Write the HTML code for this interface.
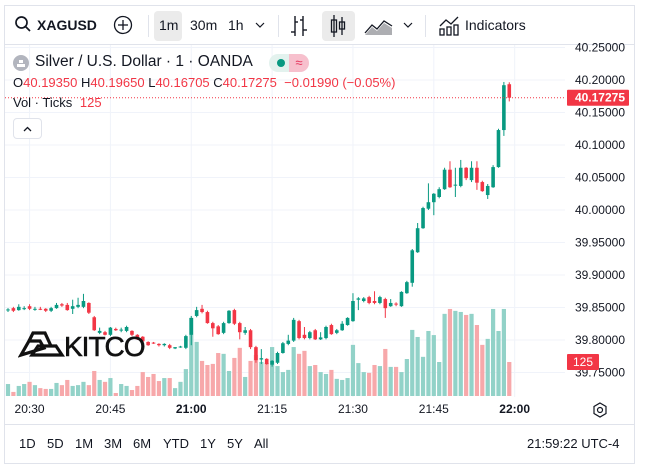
<!DOCTYPE html>
<html><head><meta charset="utf-8">
<style>
html,body{margin:0;padding:0;background:#fff;}
body{width:650px;height:467px;position:relative;overflow:hidden;font-family:"Liberation Sans",sans-serif;color:#131722;}
.abs{position:absolute;}
.frame{left:4px;top:5px;width:629px;height:457px;border:1px solid #e0e3eb;}
.tb{font-size:14px;top:17px;}
.sep{width:1px;background:#e0e3eb;}
.hl{background:#ebebeb;border-radius:4px;}
.bt{font-size:13px;top:436px;}
</style></head>
<body>
<div class="abs frame"></div>
<!-- toolbar -->
<svg class="abs" style="left:14px;top:15px" width="18" height="18"><circle cx="7.5" cy="7.5" r="5.5" fill="none" stroke="#131722" stroke-width="1.7"/><line x1="11.5" y1="11.5" x2="16" y2="16" stroke="#131722" stroke-width="1.7"/></svg>
<div class="abs tb" style="left:37px;font-weight:bold">XAGUSD</div>
<svg class="abs" style="left:113px;top:15px" width="20" height="20"><circle cx="10" cy="10" r="8.5" fill="none" stroke="#131722" stroke-width="1.3"/><line x1="10" y1="5" x2="10" y2="15" stroke="#131722" stroke-width="1.3"/><line x1="5" y1="10" x2="15" y2="10" stroke="#131722" stroke-width="1.3"/></svg>
<div class="abs sep" style="left:148px;top:15px;height:22px"></div>
<div class="abs hl" style="left:154px;top:11px;width:28px;height:30px"></div>
<div class="abs tb" style="left:159px">1m</div>
<div class="abs tb" style="left:190px">30m</div>
<div class="abs tb" style="left:228px">1h</div>
<svg class="abs" style="left:255px;top:21px" width="10" height="8"><polyline points="1,2 5,6 9,2" fill="none" stroke="#131722" stroke-width="1.2"/></svg>
<div class="abs sep" style="left:278px;top:15px;height:22px"></div>
<svg class="abs" style="left:289px;top:14px" width="20" height="24"><g stroke="#131722" stroke-width="1.4" fill="none"><line x1="6" y1="2" x2="6" y2="22"/><line x1="2" y1="18" x2="6" y2="18"/><line x1="6" y1="8" x2="9" y2="8"/><line x1="14" y1="2" x2="14" y2="22"/><line x1="11" y1="6" x2="14" y2="6"/><line x1="14" y1="16" x2="18" y2="16"/></g></svg>
<div class="abs hl" style="left:322px;top:11px;width:33px;height:30px"></div>
<svg class="abs" style="left:328px;top:14px" width="20" height="24"><g stroke="#131722" stroke-width="1.3" fill="none"><line x1="6" y1="1" x2="6" y2="23"/><rect x="3.5" y="6" width="5" height="12"/><line x1="14" y1="3" x2="14" y2="21"/><rect x="11.5" y="8" width="5" height="7"/></g></svg>
<svg class="abs" style="left:364px;top:16px" width="30" height="20"><polyline points="1,17 8,9 13,13 20,5 28,10" fill="none" stroke="#131722" stroke-width="1.3"/><polygon points="1,19 8,11 13,15 20,7 28,12 28,19" fill="#131722" opacity="0.35"/></svg>
<svg class="abs" style="left:403px;top:21px" width="10" height="8"><polyline points="1,2 5,6 9,2" fill="none" stroke="#131722" stroke-width="1.2"/></svg>
<div class="abs sep" style="left:425px;top:15px;height:22px"></div>
<svg class="abs" style="left:438px;top:14px" width="22" height="22"><g stroke="#131722" stroke-width="1.3" fill="none"><polyline points="2,12 8,6 13,10 20,3"/><rect x="2" y="15" width="4" height="6"/><rect x="9" y="13" width="4" height="8"/><rect x="16" y="11" width="4" height="10"/></g></svg>
<div class="abs tb" style="left:465px">Indicators</div>
<div class="abs" style="left:5px;top:44px;width:629px;height:1px;background:#e0e3eb"></div>

<svg id="chart" class="abs" style="left:0;top:0" width="650" height="467"></svg>

<!-- legend -->
<svg class="abs" style="left:13px;top:55px" width="16" height="16"><circle cx="8" cy="8" r="8" fill="#b2b5be"/><rect x="4" y="9" width="8" height="3" fill="#fff"/><rect x="6" y="5" width="4" height="3" fill="#fff"/></svg>
<div class="abs" style="left:35px;top:53px;font-size:15.5px">Silver / U.S. Dollar · 1 · OANDA</div>
<div class="abs" style="left:269px;top:54px;width:40px;height:18px;border-radius:9px;background:#e3f2ee;overflow:hidden"><div class="abs" style="left:8px;top:5px;width:8px;height:8px;border-radius:4px;background:#089981"></div><div class="abs" style="left:20px;top:0;width:20px;height:18px;background:#f7c0cd;color:#e5325a;font-size:13px;text-align:center;line-height:18px">≈</div></div>
<div class="abs" style="left:13px;top:75px;font-size:13px;white-space:nowrap">O<span style="color:#f23645">40.19350</span> H<span style="color:#f23645">40.19650</span> L<span style="color:#f23645">40.16705</span> C<span style="color:#f23645">40.17275</span> <span style="color:#f23645">&nbsp;−0.01990 (−0.05%)</span></div>
<div class="abs" style="left:13px;top:95px;font-size:13px">Vol · Ticks <span style="color:#f23645;margin-left:4px">125</span></div>
<div class="abs" style="left:13px;top:118px;width:27px;height:19px;border:1px solid #e0e3eb;border-radius:4px;background:#fff"><svg width="27" height="19"><polyline points="10,12 13.5,8.5 17,12" fill="none" stroke="#131722" stroke-width="1.3"/></svg></div>

<!-- logo -->
<div class="abs" style="left:18px;top:330px"><svg width="130" height="30"><g fill="none" stroke="#111" stroke-width="3.2"><polygon points="3,25 11,11 22,11 26,18"/><polygon points="14,25 20,16 38,16 44,25"/><polyline points="11,11 15,3 27,3 33,16"/></g><text x="46" y="26" font-family="Liberation Sans" font-size="28" fill="#111" stroke="#111" stroke-width="0.6" letter-spacing="-1">KITCO</text></svg></div>

<!-- bottom bar -->
<div class="abs" style="left:5px;top:424px;width:629px;height:1px;background:#e0e3eb"></div>
<div class="abs bt" style="left:19px">1D</div>
<div class="abs bt" style="left:47px">5D</div>
<div class="abs bt" style="left:75px">1M</div>
<div class="abs bt" style="left:104px">3M</div>
<div class="abs bt" style="left:133px">6M</div>
<div class="abs bt" style="left:163px">YTD</div>
<div class="abs bt" style="left:200px">1Y</div>
<div class="abs bt" style="left:227px">5Y</div>
<div class="abs bt" style="left:254px">All</div>
<div class="abs bt" style="left:527px">21:59:22 UTC-4</div>
<svg class="abs" style="left:592px;top:402px" width="16" height="16"><polygon points="8,1 14,4.5 14,11.5 8,15 2,11.5 2,4.5" fill="none" stroke="#131722" stroke-width="1.2"/><circle cx="8" cy="8" r="2.5" fill="none" stroke="#131722" stroke-width="1.2"/></svg>

<script>
const opens=[39.846,39.849,39.846,39.848,39.852,39.847,39.848,39.848,39.845,39.849,39.855,39.854,39.848,39.851,39.851,39.857,39.835,39.811,39.812,39.808,39.817,39.815,39.814,39.814,39.808,39.805,39.797,39.796,39.794,39.792,
39.792,39.787,39.789,39.788,39.808,39.837,39.848,39.843,39.826,39.821,39.811,39.826,39.846,39.826,39.811,39.815,39.789,39.770,39.771,39.762,39.765,39.780,39.794,39.799,39.829,39.808,39.803,39.815,39.801,39.803,
39.823,39.811,39.815,39.823,39.829,39.862,39.860,39.866,39.860,39.857,39.863,39.852,39.856,39.852,39.872,39.888,39.935,39.972,40.002,40.012,40.020,40.032,40.062,40.038,40.037,40.065,40.046,40.065,40.043,40.023,40.035,40.066,40.123,40.1935];
const highs=[39.849,39.851,39.855,39.852,39.855,39.851,39.851,39.849,39.851,39.857,39.857,39.857,39.862,39.865,39.871,39.858,39.837,39.819,39.814,39.820,39.819,39.819,39.822,39.815,39.809,39.806,39.798,39.797,39.795,39.795,
39.794,39.789,39.791,39.808,39.837,39.851,39.854,39.845,39.828,39.823,39.828,39.846,39.848,39.828,39.820,39.817,39.791,39.786,39.772,39.769,39.782,39.797,39.808,39.834,39.831,39.820,39.814,39.817,39.812,39.822,
39.825,39.817,39.829,39.835,39.872,39.866,39.866,39.868,39.875,39.868,39.865,39.863,39.858,39.875,39.891,39.940,39.980,40.005,40.041,40.026,40.035,40.065,40.075,40.065,40.077,40.066,40.075,40.075,40.045,40.040,40.069,40.125,40.197,40.1965];
const lows=[39.843,39.843,39.845,39.846,39.846,39.845,39.846,39.843,39.843,39.848,39.851,39.845,39.840,39.849,39.849,39.840,39.814,39.809,39.807,39.806,39.814,39.812,39.812,39.806,39.800,39.796,39.791,39.794,39.790,39.790,
39.786,39.786,39.788,39.786,39.792,39.835,39.841,39.825,39.805,39.808,39.809,39.825,39.823,39.801,39.808,39.786,39.765,39.763,39.762,39.759,39.763,39.779,39.792,39.797,39.801,39.801,39.801,39.800,39.800,39.801,
39.808,39.809,39.814,39.822,39.828,39.846,39.858,39.855,39.855,39.855,39.834,39.851,39.852,39.851,39.871,39.882,39.934,39.971,40.000,39.992,40.018,40.031,40.034,40.020,40.035,40.046,40.043,40.031,40.028,40.017,40.034,40.065,40.114,40.16705];
const closes=[39.847,39.845,39.851,39.849,39.848,39.848,39.847,39.845,39.849,39.854,39.853,39.846,39.852,39.854,39.860,39.842,39.815,39.814,39.808,39.819,39.815,39.816,39.820,39.808,39.801,39.798,39.792,39.795,39.792,39.794,
39.788,39.789,39.790,39.806,39.834,39.846,39.843,39.826,39.818,39.809,39.826,39.845,39.825,39.812,39.815,39.789,39.769,39.772,39.763,39.768,39.780,39.795,39.799,39.831,39.803,39.803,39.812,39.801,39.804,39.820,
39.809,39.815,39.825,39.834,39.860,39.864,39.864,39.857,39.857,39.866,39.849,39.857,39.855,39.874,39.889,39.938,39.972,40.003,40.012,40.025,40.032,40.062,40.035,40.039,40.065,40.049,40.065,40.042,40.029,40.037,40.066,40.123,40.192,40.17275];
const volumes=[44,15,37,44,52,40,29,26,26,48,40,59,37,40,52,40,92,59,52,66,11,44,37,22,37,88,70,81,55,66,
66,29,52,99,287,199,129,114,118,158,155,92,140,177,70,129,151,125,121,180,110,88,96,180,155,166,110,114,88,81,
96,63,59,66,188,121,88,85,114,110,173,107,107,88,136,243,217,144,239,224,125,302,320,313,309,298,302,261,188,210,320,239,320,125];
const priceTicks=[40.25,40.20,40.15,40.10,40.05,40.00,39.95,39.90,39.85,39.80,39.75];
const timeLabels=["20:30","20:45","21:00","21:15","21:30","21:45","22:00"];
const timeIdx=[4,19,34,49,64,79,94];
const lastPrice=40.17275;

const NS="http://www.w3.org/2000/svg";
const svg=document.getElementById('chart');
const xS=i=>8+i*5.39;
const yS=p=>80+(40.2-p)*650;
const vS=v=>v*0.272;
const VBASE=396;
function mk(t,a,p){const e=document.createElementNS(NS,t);for(const k in a)e.setAttribute(k,a[k]);(p||svg).appendChild(e);return e;}
const G="#089981",R="#f23645";
const grid=mk('g',{});


priceTicks.forEach(p=>{mk('line',{x1:5,x2:565,y1:yS(p),y2:yS(p),stroke:"#f0f3fa","stroke-width":1},grid);});
timeIdx.forEach(i=>{mk('line',{x1:xS(i),x2:xS(i),y1:45,y2:397,stroke:"#f0f3fa","stroke-width":1},grid);});
volumes.forEach((v,i)=>{const up=closes[i]>=opens[i];const h=vS(v);
 const r=mk('rect',{x:xS(i)-2.1,y:VBASE-h,width:4.2,height:h,fill:up?"#92d2c8":"#f7a8aa"});
 
 });
opens.forEach((o,i)=>{const c=closes[i];const up=c>=o;const col=up?G:R;
 const g=mk('g',{});
 
 
 mk('line',{x1:xS(i),x2:xS(i),y1:yS(highs[i]),y2:yS(lows[i]),stroke:col,"stroke-width":1},g);
 const t=Math.min(yS(o),yS(c));const h=Math.max(1,Math.abs(yS(o)-yS(c)));
 mk('rect',{x:xS(i)-1.8,y:t,width:3.6,height:h,fill:col},g);});
const lp=mk('line',{x1:5,x2:566,y1:yS(lastPrice),y2:yS(lastPrice),stroke:R,"stroke-width":1,"stroke-dasharray":"1,2"});


priceTicks.forEach(p=>{const t=mk('text',{x:625,y:yS(p)+4,"text-anchor":"end","font-size":12,"font-family":"Liberation Sans",fill:"#131722"});t.textContent=p.toFixed(5);
 
 });
const lb=mk('rect',{x:567,y:yS(lastPrice)-8,width:62,height:16,fill:R,rx:1});


const lt=mk('text',{x:625,y:yS(lastPrice)+4,"text-anchor":"end","font-size":12,"font-weight":"bold","font-family":"Liberation Sans",fill:"#fff"});lt.textContent=lastPrice.toFixed(5);
const vb=mk('rect',{x:567,y:VBASE-vS(volumes[volumes.length-1])-8,width:32,height:16,fill:R,rx:1});


const vt=mk('text',{x:583,y:VBASE-vS(volumes[volumes.length-1])+4,"text-anchor":"middle","font-size":12,"font-family":"Liberation Sans",fill:"#fff"});vt.textContent=String(volumes[volumes.length-1]);
timeLabels.forEach((s,k)=>{const t=mk('text',{x:xS(timeIdx[k]),y:413,"text-anchor":"middle","font-size":12,"font-family":"Liberation Sans",fill:"#131722","font-weight":(s.endsWith(":00")?"bold":"normal")});t.textContent=s;
 
 });
</script>
</body></html>
